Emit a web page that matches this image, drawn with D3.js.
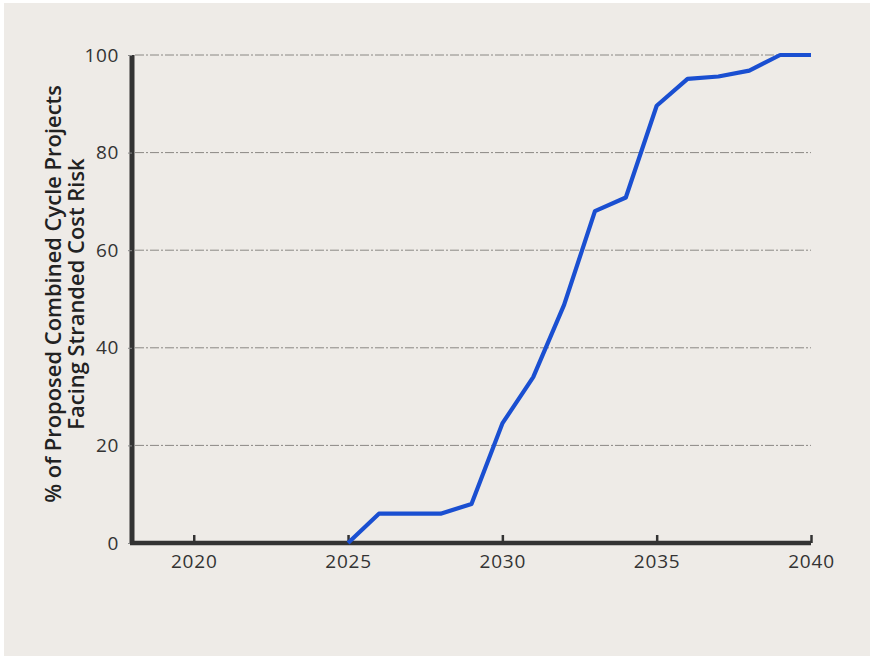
<!DOCTYPE html>
<html>
<head>
<meta charset="utf-8">
<script src="https://cdn.jsdelivr.net/npm/d3@7"></script>
<style>
html,body{margin:0;padding:0;background:#ffffff;}
svg{display:block;}
</style>
</head>
<body>
<script>
const years = [2025,2026,2027,2028,2029,2030,2031,2032,2033,2034,2035,2036,2037,2038,2039,2040];
const shares = [0,6,6,6,8,24.5,34,48.8,68,70.8,89.6,95.1,95.6,96.8,100,100];
const xTicks = [2020,2025,2030,2035,2040];
const yTicks = [0,20,40,60,80,100];
const titleLines = ["% of Proposed Combined Cycle Projects","Facing Stranded Cost Risk"];

const W = 870, H = 657;
const svg = d3.select("body").append("svg").attr("width", W).attr("height", H);
svg.append("rect").attr("x",4).attr("y",3).attr("width",W-4).attr("height",H-4).attr("fill","#eeebe7");

const x = d3.scaleLinear().domain([2018,2040]).range([132,811]);
const y = d3.scaleLinear().domain([0,100]).range([543,55]);
const font = "'Open Sans', sans-serif";

// gridlines
svg.append("g").selectAll("line").data(yTicks.filter(d=>d>0)).join("line")
  .attr("x1",135).attr("x2",x(2040)).attr("y1",d=>y(d)).attr("y2",d=>y(d))
  .attr("stroke","#8a8884").attr("stroke-width",1).attr("stroke-dasharray","9,2,2,2");

// y axis
const yAxis = svg.append("g").attr("transform",`translate(${x(2018)},0)`)
  .call(d3.axisLeft(y).tickValues(yTicks).tickSize(4).tickPadding(9));
yAxis.select(".domain").attr("stroke","#333").attr("stroke-width",5).attr("d",`M0,${y(100)}V${y(0)}`);
yAxis.selectAll(".tick line").attr("stroke","#888");
yAxis.selectAll(".tick text").attr("font-family",font).attr("font-size",19).attr("fill","#333").attr("letter-spacing",0.6);

// x axis
const xAxis = svg.append("g").attr("transform",`translate(0,${y(0)})`)
  .call(d3.axisBottom(x).tickValues(xTicks).tickSize(-8).tickPadding(12).tickFormat(d3.format("d")));
xAxis.select(".domain").attr("stroke","#333").attr("stroke-width",4.5).attr("d",`M${x(2018)-2},0H${x(2040)}`);
xAxis.selectAll(".tick line").attr("stroke","#333").attr("stroke-width",2.5);
xAxis.selectAll(".tick text").attr("font-family",font).attr("font-size",19).attr("fill","#333").attr("letter-spacing",0.8);

// line
const data = years.map((yr,i)=>({yr, v: shares[i]}));
svg.append("path").datum(data)
  .attr("fill","none").attr("stroke","#1a4fd1").attr("stroke-width",4.2)
  .attr("stroke-linejoin","round")
  .attr("d", d3.line().x(d=>x(d.yr)).y(d=>y(d.v)));

// y title
const t = svg.append("text").attr("transform","translate(53,294) rotate(-90)")
  .attr("text-anchor","middle").attr("font-family",font).attr("font-size",19)
  .attr("font-weight",600).attr("fill","#222");
titleLines.forEach((l,i)=>t.append("tspan").attr("x",0).attr("dy", i===0? "0.35em" : 23).text(l));
const len = t.select("tspan").node().getComputedTextLength();
t.attr("font-size", 19*418/len);
</script>
</body>
</html>
